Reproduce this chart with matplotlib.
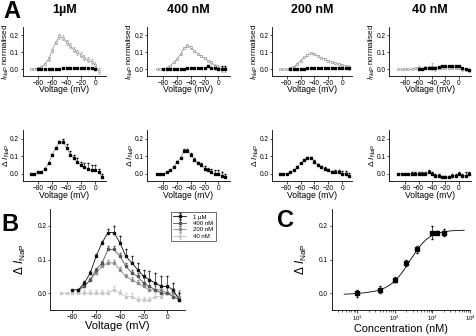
import numpy as np
import matplotlib
matplotlib.use('Agg')
from matplotlib import pyplot as plt

plt.rcParams['font.family'] = ['Liberation Sans', 'DejaVu Sans']
plt.rcParams['mathtext.fontset'] = 'custom'
plt.rcParams['mathtext.rm'] = 'Liberation Sans'
plt.rcParams['mathtext.it'] = 'Liberation Sans:italic'
plt.rcParams['axes.linewidth'] = 0.6

# ---- data ----
conc_titles = ['1\u00b5M', '400 nM', '200 nM', '40 nM']

v_open = np.arange(-90, 20, 5)   # -90 .. 15 mV

# panel A, top row: open squares (normalised I_NaP with drug), filled squares (control)
open_1u = [0.0, 0.0, 0.005, 0.015, 0.03, 0.06, 0.11, 0.16, 0.195, 0.186, 0.16, 0.14,
           0.115, 0.10, 0.085, 0.068, 0.055, 0.045, 0.025, -0.01]
open_1u_err = [0.0, 0.0, 0.005, 0.005, 0.005, 0.01, 0.01, 0.01, 0.015, 0.015, 0.015, 0.015,
               0.015, 0.015, 0.015, 0.015, 0.015, 0.015, 0.02, 0.02]
open_400 = [0.0, 0.0, 0.0, 0.01, 0.02, 0.04, 0.06, 0.09, 0.125, 0.14, 0.13, 0.11,
            0.09, 0.08, 0.065, 0.05, 0.04, 0.02, 0.01, 0.0, 0.0]
open_400_err = [0.0, 0.0, 0.0, 0.005, 0.005, 0.005, 0.005, 0.005, 0.005, 0.008, 0.008, 0.005,
                0.005, 0.005, 0.005, 0.005, 0.008, 0.01, 0.015, 0.015, 0.015]
open_200 = [0.0, 0.0, 0.0, 0.01, 0.015, 0.03, 0.05, 0.07, 0.085, 0.095, 0.09, 0.08,
            0.065, 0.06, 0.05, 0.04, 0.035, 0.03, 0.025, 0.02, 0.01]
open_200_err = [0.0, 0.0, 0.0, 0.003, 0.003, 0.005, 0.005, 0.005, 0.005, 0.005, 0.005, 0.005,
                0.005, 0.005, 0.005, 0.005, 0.005, 0.005, 0.005, 0.005, 0.015]
open_40 = [0.0, 0.0, 0.0, 0.0, 0.0, 0.005, 0.01, 0.0, 0.01, 0.01, 0.015, 0.005,
           0.01, 0.01, 0.01, 0.01, 0.01, 0.01, 0.01, 0.0, 0.0, -0.005]
open_40_err = [0.0, 0.0, 0.0, 0.0, 0.0, 0.005, 0.01, 0.005, 0.01, 0.01, 0.02, 0.015,
               0.01, 0.01, 0.01, 0.01, 0.01, 0.01, 0.01, 0.01, 0.01, 0.01]

ctrl_1u_v = np.arange(-80, 5, 5)
ctrl_1u = [0.0, 0.0, 0.0, 0.0, 0.0, 0.0, 0.0, 0.01, 0.01, 0.01, 0.01, 0.01, 0.01, 0.01, 0.01,
           0.01, 0.0]
ctrl_400_v = np.arange(-80, 15, 5)
ctrl_400 = [0.0, 0.0, 0.0, 0.0, 0.0, 0.0, 0.0, 0.01, 0.01, 0.01, 0.01, 0.01, 0.01, 0.02, 0.01,
            0.01, 0.0, 0.0, 0.0]
ctrl_400_err = [0, 0, 0, 0, 0, 0, 0, 0, 0, 0, 0, 0, 0, 0, 0, 0.01, 0.015, 0.02, 0.02]
ctrl_200_v = np.arange(-75, 15, 5)
ctrl_200 = [0.0, 0.0, 0.0, 0.0, 0.0, 0.01, 0.01, 0.01, 0.01, 0.01, 0.01, 0.01, 0.01, 0.01,
            0.01, 0.01, 0.01, 0.01]
ctrl_40_v = np.arange(-60, 20, 5)
ctrl_40 = [0.0, 0.0, 0.005, 0.01, 0.01, 0.01, 0.015, 0.02, 0.02, 0.02, 0.02, 0.02, 0.02,
           0.01, 0.0, -0.005]

# difference (drug - control), panel A bottom row and panel B
dv_1u = np.arange(-90, 15, 5)
d_1u = [0.0, 0.0, 0.01, 0.01, 0.03, 0.06, 0.11, 0.15, 0.18, 0.18, 0.15, 0.11, 0.09, 0.07,
        0.05, 0.04, 0.03, 0.02, 0.02, 0.01, -0.02]
d_1u_err = [0, 0, 0, 0, 0.005, 0.005, 0.005, 0.005, 0.01, 0.02, 0.02, 0.02, 0.02, 0.02,
            0.02, 0.025, 0.03, 0.03, 0.03, 0.02, 0.02]
dv_400 = np.arange(-90, 15, 5)
d_400 = [0.0, 0.0, 0.0, 0.01, 0.02, 0.04, 0.07, 0.09, 0.13, 0.13, 0.11, 0.08, 0.06, 0.05,
         0.03, 0.02, 0.01, 0.0, 0.0, -0.01, -0.02]
d_400_err = [0, 0, 0, 0, 0.005, 0.005, 0.005, 0.005, 0.01, 0.01, 0.01, 0.01, 0.01, 0.01,
             0.015, 0.015, 0.02, 0.02, 0.02, 0.02, 0.02]
dv_200 = np.arange(-90, 15, 5)
d_200 = [0.0, 0.0, 0.0, 0.01, 0.02, 0.04, 0.06, 0.08, 0.09, 0.09, 0.07, 0.05, 0.04, 0.03,
         0.02, 0.01, 0.01, 0.01, 0.0, 0.0, -0.01]
d_200_err = [0, 0, 0, 0, 0.003, 0.005, 0.005, 0.005, 0.008, 0.008, 0.008, 0.008, 0.008,
             0.008, 0.008, 0.008, 0.01, 0.015, 0.015, 0.015, 0.015]
dv_40 = np.arange(-90, 20, 5)
d_40 = [0.0, 0.0, 0.0, 0.0, 0.0, 0.0, 0.0, 0.0, 0.0, 0.01, 0.0, -0.01, -0.01, -0.02, -0.02,
        -0.02, -0.01, -0.01, 0.0, -0.01, -0.01, 0.0]
d_40_err = [0, 0, 0, 0, 0.01, 0.01, 0.01, 0.01, 0.01, 0.01, 0.01, 0.01, 0.01, 0.01, 0.01,
            0.01, 0.01, 0.01, 0.01, 0.01, 0.02, 0.01]

# panel C: dose-response
conc = [10, 40, 100, 200, 400, 1000, 1350, 2000]
resp = [0.0, 0.01, 0.04, 0.09, 0.13, 0.18, 0.18, 0.18]
resp_err = [0.01, 0.01, 0.008, 0.01, 0.01, 0.02, 0.004, 0.01]
fit_conc = [4.5, 7, 10, 15, 20, 30, 40, 55, 70, 85, 100, 130, 160, 200, 250, 300, 400, 500,
            650, 800, 1000, 1400, 2000, 3000, 4500, 7000]
fit_resp = [-0.003, -0.002, -0.001, 0.001, 0.003, 0.006, 0.01, 0.016, 0.023, 0.029, 0.036,
            0.05, 0.063, 0.079, 0.096, 0.109, 0.13, 0.144, 0.157, 0.165, 0.172, 0.178,
            0.182, 0.185, 0.186, 0.187]

W, H = 477, 336
fig = plt.figure(figsize=(W / 100, H / 100), dpi=100)


def ax_at(l, t, r, b):
    a = fig.add_axes([l / W, 1 - b / H, (r - l) / W, (b - t) / H])
    a.spines['top'].set_visible(False)
    a.spines['right'].set_visible(False)
    a.tick_params(direction='out', length=1.8, width=0.5, pad=0.8, labelsize=4.7)
    return a


def place_labels(a, l, t, r, b, ylab_right, xlab_top):
    # label positions given in figure pixels
    w, h = r - l, b - t
    a.yaxis.set_label_coords((ylab_right - l) / w, 0.5)
    a.xaxis.set_label_coords(0.5, (b - xlab_top) / h)


gray = '#8a8a8a'
lefts = [22.7, 147, 272, 389]
rights = [106, 230, 352, 471]
xlims = [(-101, 15), (-104, 17), (-101, 14), (-104, 18)]
opens = [(open_1u, open_1u_err), (open_400, open_400_err), (open_200, open_200_err),
         (open_40, open_40_err)]
ctrls = [(ctrl_1u_v, ctrl_1u, None), (ctrl_400_v, ctrl_400, ctrl_400_err),
         (ctrl_200_v, ctrl_200, None), (ctrl_40_v, ctrl_40, None)]
diffs = [(dv_1u, d_1u, d_1u_err), (dv_400, d_400, d_400_err), (dv_200, d_200, d_200_err),
         (dv_40, d_40, d_40_err)]

top_t, top_b = 27, 76
bot_t, bot_b = 130, 181

for i in range(4):
    # top row
    a = ax_at(lefts[i], top_t, rights[i], top_b)
    y, e = opens[i]
    v = v_open[:len(y)]
    a.errorbar(v, y, yerr=e, color=gray, lw=0.5, elinewidth=0.4, capsize=0.6,
               marker='s', ms=1.7, mfc='white', mec=gray, mew=0.4, zorder=2)
    cv, cy, ce = ctrls[i]
    if ce is not None:
        a.errorbar(cv, cy, yerr=[np.zeros(len(ce)), ce], fmt='none', ecolor='black',
                   elinewidth=0.4, capsize=0.6)
    a.plot(cv, cy, 's', color='black', ms=1.6, zorder=3)
    a.set_xlim(*xlims[i])
    a.set_ylim(-0.04, 0.25)
    a.set_xticks([-80, -60, -40, -20, 0])
    a.set_yticks([0.0, 0.1, 0.2])
    a.set_yticklabels(['0.0', '0.1', '0.2'])
    a.set_xlabel('Voltage (mV)', fontsize=6.2)
    a.set_ylabel(r'$I_{\rm NaP}$ normalised', fontsize=5.8)
    place_labels(a, lefts[i], top_t, rights[i], top_b, lefts[i] - 12, 85.5)
    a.set_title(conc_titles[i], fontsize=9, fontweight='bold', pad=10)

    # bottom row
    b = ax_at(lefts[i], bot_t, rights[i], bot_b)
    dv, dy, de = diffs[i]
    b.errorbar(dv, dy, yerr=[np.zeros(len(de)), de], color=gray, lw=0.5, elinewidth=0.4,
               ecolor='black', capsize=0.6, marker='s', ms=1.6, mfc='black', mec='black',
               zorder=2)
    b.set_xlim(*xlims[i])
    b.set_ylim(-0.04, 0.25)
    b.set_xticks([-80, -60, -40, -20, 0])
    b.set_yticks([0.0, 0.1, 0.2])
    b.set_yticklabels(['0.0', '0.1', '0.2'])
    b.set_xlabel('Voltage (mV)', fontsize=6.2)
    b.set_ylabel(r'$\Delta\ I_{\rm NaP}$', fontsize=6.0)
    place_labels(b, lefts[i], bot_t, rights[i], bot_b, lefts[i] - 11.2, 190.5)

# panel B
bl, bt, br, bb = 50, 209, 185, 310
bx = ax_at(bl, bt, br, bb)
b_series = [('1 \u00b5M', dv_1u[2:], d_1u[2:], d_1u_err[2:], '#111111'),
            ('400 nM', dv_400[3:], d_400[3:], d_400_err[3:], '#555555'),
            ('200 nM', dv_200[3:], d_200[3:], d_200_err[3:], '#8c8c8c'),
            ('40 nM', dv_40[:21], d_40[:21], d_40_err[:21], '#c8c8c8')]
for lab, v, y, e, c in reversed(b_series):
    bx.errorbar(v, y, yerr=[np.zeros(len(e)), e], color=c, lw=0.6, elinewidth=0.5,
                capsize=1.0, marker='s', ms=1.9, label=lab)
h, l = bx.get_legend_handles_labels()
leg = bx.legend(h[::-1], l[::-1], loc='upper right', fontsize=4.3, frameon=True,
                fancybox=False, edgecolor='black', handlelength=2.2, borderpad=0.4,
                labelspacing=0.2, handletextpad=1.2, bbox_to_anchor=(1.25, 1.0))
leg.get_frame().set_linewidth(0.5)
bx.set_xlim(-99, 15)
bx.set_ylim(-0.05, 0.25)
bx.set_xticks([-80, -60, -40, -20, 0])
bx.set_yticks([0.0, 0.1, 0.2])
bx.set_yticklabels(['0.0', '0.1', '0.2'])
bx.set_xlabel('Voltage (mV)', fontsize=8)
bx.set_ylabel(r'$\Delta\ I_{\rm NaP}$', fontsize=8.5)
place_labels(bx, bl, bt, br, bb, 28, 321)

# panel C
cl, ct, cr, cb = 331.7, 209, 470, 310
cx = ax_at(cl, ct, cr, cb)
cx.plot(fit_conc, fit_resp, color='black', lw=0.6)
cx.errorbar(conc, resp, yerr=resp_err, fmt='s', color='black', ms=2.4, elinewidth=0.5,
            capsize=1.0)
cx.set_xscale('log')
cx.set_xlim(2.1, 1e4)
cx.set_ylim(-0.05, 0.25)
cx.set_yticks([0.0, 0.1, 0.2])
cx.set_yticklabels(['0.0', '0.1', '0.2'])
cx.tick_params(axis='x', labelsize=4.3, pad=0.6)
cx.tick_params(which='minor', length=1.2, width=0.4)
cx.set_xlabel('Concentration (nM)', fontsize=7.8)
cx.set_ylabel(r'$\Delta\ I_{\rm NaP}$', fontsize=8.5)
place_labels(cx, cl, ct, cr, cb, 309, 323.5)

# panel letters
fig.text(3 / W, 1 - 18 / H, 'A', fontsize=17, fontweight='bold')
fig.text(1 / W, 1 - 231 / H, 'B', fontsize=17, fontweight='bold')
fig.text(277 / W, 1 - 227 / H, 'C', fontsize=17, fontweight='bold')

fig.savefig('out.png', dpi=100)
